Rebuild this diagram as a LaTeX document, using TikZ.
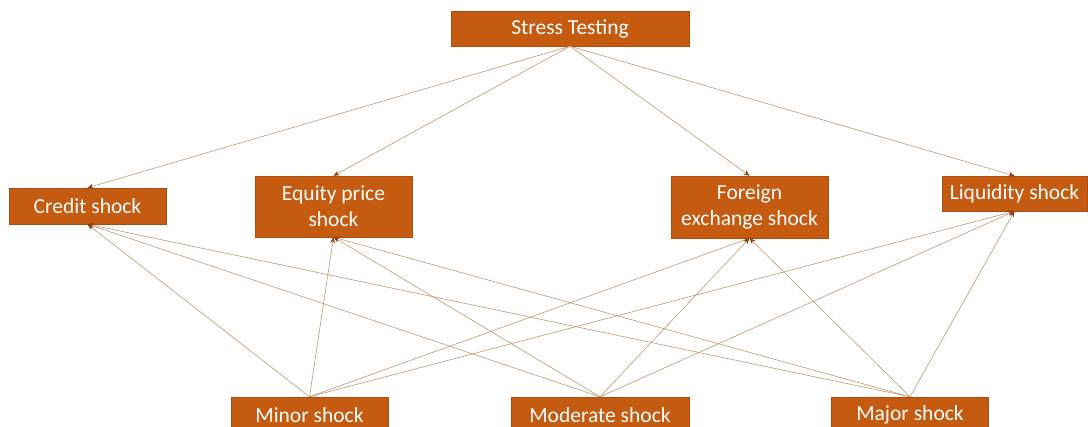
\documentclass[tikz,border=0pt]{standalone}
\usepackage{fontspec}
\setmainfont{Carlito}
\usetikzlibrary{arrows.meta}
\definecolor{boxfill}{HTML}{C55A11}
\definecolor{boxedge}{HTML}{A94C0E}
\definecolor{linkcol}{HTML}{C29572}
\definecolor{tipcol}{HTML}{8E4210}
\tikzset{
  shockbox/.style={draw=boxedge, fill=boxfill, text=white, inner sep=0pt,
    minimum width=157pt, minimum height=36pt, align=center,
    font=\fontsize{21.5}{26}\selectfont},
  link/.style={draw=linkcol, line width=0.6pt,
    -{Stealth[length=6pt,width=5pt,color=tipcol]}}
}
\begin{document}
\begin{tikzpicture}[x=1pt, y=-1pt]
\useasboundingbox (0,0) rectangle (1088,427);
% top
\node[shockbox, minimum width=238pt, minimum height=35pt] (stress) at (570,28.5) {Stress Testing};
% shock types
\node[shockbox] (credit) at (87.5,206) {Credit shock};
\node[shockbox, minimum height=61pt] (equity) at (333.5,206.5) {Equity price\\shock};
\node[shockbox, minimum height=62pt] (forex) at (749.5,207) {Foreign\\exchange shock};
\node[shockbox, minimum width=145pt, minimum height=35pt] (liquidity) at (1014.5,193.5) {Liquidity shock};
% severities
\node[shockbox] (minor) at (309.5,415) {Minor shock};
\node[shockbox, minimum width=178pt] (moderate) at (600,415) {Moderate shock};
\node[shockbox] (major) at (910,415) {Major shock};
\foreach \t in {credit,equity,forex,liquidity}
  \draw[link] (stress.south) -- (\t.north);
\foreach \s in {minor,moderate,major}
  \foreach \t in {credit,equity,forex,liquidity}
    \draw[link] (\s.north) -- (\t.south);
\end{tikzpicture}
\end{document}
